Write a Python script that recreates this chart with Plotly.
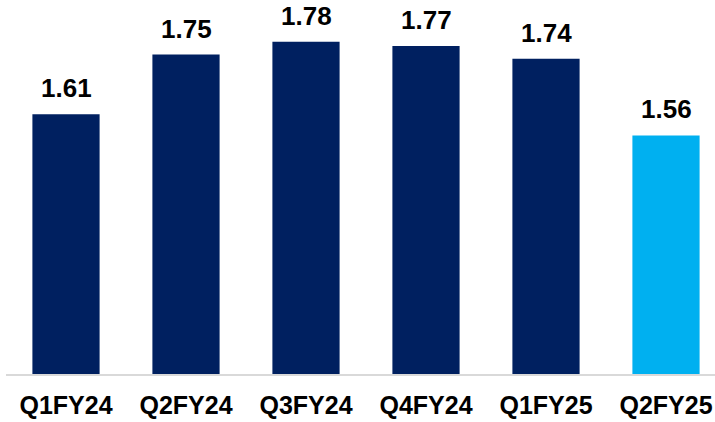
import plotly.graph_objects as go

quarters = ["Q1FY24", "Q2FY24", "Q3FY24", "Q4FY24", "Q1FY25", "Q2FY25"]
values = [1.61, 1.75, 1.78, 1.77, 1.74, 1.56]
bar_colors = ["#002060", "#002060", "#002060", "#002060", "#002060", "#00B0F0"]

FONT = "Liberation Sans, Arial, sans-serif"

fig = go.Figure(
    go.Bar(
        x=quarters,
        y=values,
        marker=dict(color=bar_colors, line=dict(width=0)),
        width=0.56,
        hoverinfo="skip",
    )
)

# value labels above each bar
for q, v in zip(quarters, values):
    fig.add_annotation(
        x=q, y=v, text=f"<b>{v:.2f}</b>",
        showarrow=False, yanchor="bottom", yshift=10, borderpad=0,
        font=dict(family=FONT, size=26, color="#000000"),
    )

fig.update_layout(
    width=715, height=422,
    margin=dict(l=6, r=0, t=0, b=48),
    plot_bgcolor="white", paper_bgcolor="white",
    showlegend=False,
    xaxis=dict(
        range=[-0.5, -0.5 + 709 / 120],
        showline=True, linecolor="#D9D9D9", linewidth=2,
        ticks="", showgrid=False, zeroline=False,
        tickfont=dict(family=FONT, size=25, color="#000000"),
        ticklabelstandoff=8,
    ),
    yaxis=dict(
        range=[1.0, 1.0 + 374 / 426],
        visible=False, showgrid=False, zeroline=False,
    ),
)
fig.update_xaxes(tickvals=quarters, ticktext=[f"<b>{q}</b>" for q in quarters])

fig.write_html("out.html")
